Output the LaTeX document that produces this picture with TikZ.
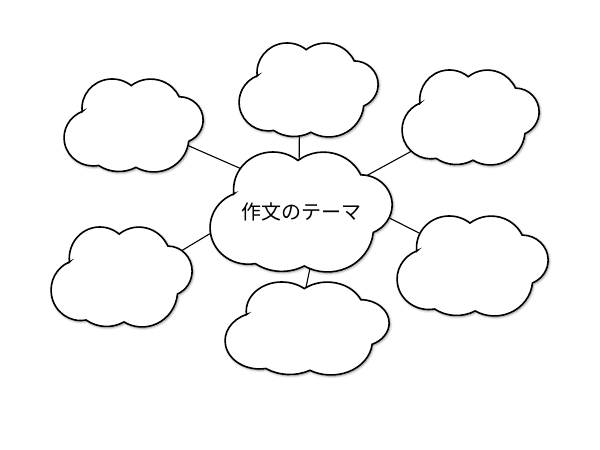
\documentclass[tikz,border=0pt]{standalone}
\usepackage{fontspec}
\newfontfamily\jpfont{Noto Sans CJK JP}
\usepackage{tikz}
\usetikzlibrary{calc,shadows.blur}
\pgfdeclarelayer{back}
\pgfdeclarelayer{clouds}
\pgfsetlayers{back,clouds,main}

\tikzset{
  bubble/.style={draw=black, line width=1.6pt, fill=white,
    blur shadow={shadow xshift=1pt, shadow yshift=-1.2pt, shadow blur radius=2.5pt,
      shadow blur steps=8, shadow opacity=45}},
  hub/.style={inner sep=0pt},
  theme/.style={font=\jpfont\fontsize{20pt}{24pt}\selectfont},
  link/.style={draw=black, line width=1.1pt},
  % cloud of width #1 and height #2 (pt), six puffs, drawn in a unit box with y downwards
  pics/puffs/.style 2 args={code={
    \path[bubble, x=#1pt, y=-#2pt, shift={(-0.5,-0.5)}] (0.131,0.35)
      arc[start angle=173.4, delta angle=135.9, x radius=0.2166, y radius=0.314]
      arc[start angle=231.9, delta angle=103.1, x radius=0.2266, y radius=0.3285]
      arc[start angle=270, delta angle=156.5, x radius=0.1724, y radius=0.25]
      arc[start angle=5.8, delta angle=114.5, x radius=0.2531, y radius=0.367]
      arc[start angle=61.6, delta angle=62.6, x radius=0.2593, y radius=0.376]
      arc[start angle=79.4, delta angle=168.6, x radius=0.2097, y radius=0.304]
      -- cycle;
  }},
}

\begin{document}
\begin{tikzpicture}[x=1pt, y=1pt]
\useasboundingbox (0,0) rectangle (600,450);

% theme in the middle, six empty clouds round it
\node[hub, theme] (c) at (301,238) {作文のテーマ};
\node[hub] (t) at (308.5,360) {};
\node[hub] (tl) at (133.5,324.5) {};
\node[hub] (tr) at (470.5,332.5) {};
\node[hub] (l) at (121.5,173) {};
\node[hub] (b) at (307,121.5) {};
\node[hub] (r) at (472.5,184) {};

\begin{pgfonlayer}{clouds}
  \pic at (c) {puffs={182}{120}};
  \pic at (t) {puffs={139}{94}};
  \pic at (tl) {puffs={139}{93}};
  \pic at (tr) {puffs={137}{95}};
  \pic at (l) {puffs={141}{100}};
  \pic at (b) {puffs={164}{93}};
  \pic at (r) {puffs={151}{100}};
\end{pgfonlayer}

% connectors run under the clouds
\begin{pgfonlayer}{back}
  \draw[link] ($(c)+(-32,31)$) -- ($(tl)+(27,-8)$);
  \draw[link] ($(c)+(-2,21)$) -- ($(t)+(-9,-15)$);
  \draw[link] ($(c)+(43,24)$) -- ($(tr)+(-34,-20)$);
  \draw[link] ($(c)+(-65,-6)$) -- ($(l)+(33,10)$);
  \draw[link] ($(c)+(16,-23)$) -- ($(b)+(-8,8)$);
  \draw[link] ($(c)+(59,9)$) -- ($(r)+(-26,19)$);
\end{pgfonlayer}
\end{tikzpicture}
\end{document}
